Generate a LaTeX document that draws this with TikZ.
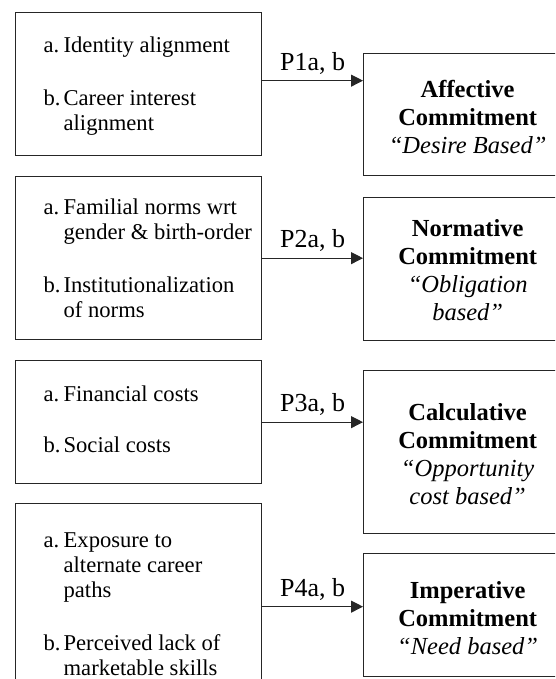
\documentclass[tikz,border=0pt]{standalone}
\usepackage{fontspec}
\setmainfont{Liberation Serif}
\usetikzlibrary{arrows.meta}
\newcommand{\lbl}[1]{\makebox[20pt][l]{#1}}
\newcommand{\lowered}[2]{\raisebox{-#1}[\height][\depth]{#2}}
\begin{document}
\begin{tikzpicture}[x=1pt,y=-1pt,
  boxline/.style={draw=black!85, line width=1.3pt},
  leftbox/.style={boxline, rectangle, anchor=north west, minimum width=246pt,
    inner xsep=28pt, inner ysep=0pt,
    font=\fontsize{22.6}{25}\selectfont},
  rightbox/.style={boxline, rectangle, anchor=north west, minimum width=208pt,
    inner sep=0pt, font=\fontsize{24.5}{28}\selectfont},
  link/.style={draw=black!85, line width=1.1pt, -{Triangle[length=12pt,width=12pt]}},
  plabel/.style={midway, anchor=base, yshift=10.5pt, font=\fontsize{26}{28}\selectfont}
]
\useasboundingbox (0,0) rectangle (555,679);
\clip (0,0) rectangle (555,679);

% left boxes
\node[leftbox, minimum height=143pt] (l1) at (15,12) {\lowered{2pt}{\makebox[190pt][l]{\begin{tabular}{@{}l@{}l@{}}
  \lbl{a.} & Identity alignment\\[28pt]
  \lbl{b.} & Career interest\\
           & alignment
  \end{tabular}}}};
\node[leftbox, minimum height=163pt] (l2) at (15,176) {\lowered{2.5pt}{\makebox[190pt][l]{\begin{tabular}{@{}l@{}l@{}}
  \lbl{a.} & Familial norms wrt\\
           & gender \& birth-order\\[28pt]
  \lbl{b.} & Institutionalization\\
           & of norms
  \end{tabular}}}};
\node[leftbox, minimum height=123pt] (l3) at (15,360) {\makebox[190pt][l]{\begin{tabular}{@{}l@{}l@{}}
  \lbl{a.} & Financial costs\\[26pt]
  \lbl{b.} & Social costs
  \end{tabular}}};
\node[leftbox, minimum height=206pt] (l4) at (15,503) {\makebox[190pt][l]{\begin{tabular}{@{}l@{}l@{}}
  \lbl{a.} & Exposure to\\
           & alternate career\\
           & paths\\[28pt]
  \lbl{b.} & Perceived lack of\\
           & marketable skills
  \end{tabular}}};

% right boxes
\node[rightbox, minimum height=122pt] (r1) at (363,53) {\lowered{5pt}{\begin{tabular}{@{}c@{}}
  \textbf{Affective}\\ \textbf{Commitment}\\ \textit{“Desire Based”}\end{tabular}}};
\node[rightbox, minimum height=143pt] (r2) at (363,197) {\lowered{4pt}{\begin{tabular}{@{}c@{}}
  \textbf{Normative}\\ \textbf{Commitment}\\ \textit{“Obligation}\\ \textit{based”}\end{tabular}}};
\node[rightbox, minimum height=163pt] (r3) at (363,370) {\lowered{5pt}{\begin{tabular}{@{}c@{}}
  \textbf{Calculative}\\ \textbf{Commitment}\\ \textit{“Opportunity}\\ \textit{cost based”}\end{tabular}}};
\node[rightbox, minimum height=123pt] (r4) at (363,553) {\lowered{5.5pt}{\begin{tabular}{@{}c@{}}
  \textbf{Imperative}\\ \textbf{Commitment}\\ \textit{“Need based”}\end{tabular}}};

% connectors
\coordinate (s1) at ([yshift=3.5pt]l1.east);
\draw[link] (s1) -- (s1 -| r1.west) node[plabel] {P1a, b};
\draw[link] (l2.east) -- (l2.east -| r2.west) node[plabel] {P2a, b};
\draw[link] (l3.east) -- (l3.east -| r3.west) node[plabel] {P3a, b};
\draw[link] (l4.east) -- (l4.east -| r4.west) node[plabel] {P4a, b};
\end{tikzpicture}
\end{document}
